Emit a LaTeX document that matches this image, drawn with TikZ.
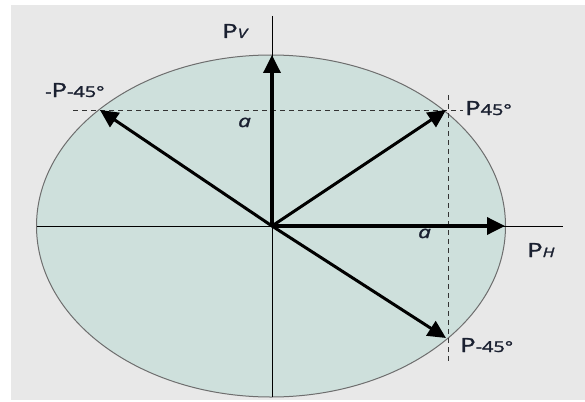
\documentclass[tikz,border=0pt]{standalone}
\usepackage{fontspec}
\setmainfont{Open Sans}
\usetikzlibrary{arrows.meta}
\definecolor{panel}{HTML}{E8E8E8}
\definecolor{disc}{HTML}{CEE0DC}
\definecolor{rim}{HTML}{6E6E6E}
\definecolor{txt}{HTML}{1A2030}
\newcommand{\hstretch}[1]{\scalebox{1.32}[1]{#1}}
\newcommand{\heavy}{\addfontfeature{FakeBold=1.5}}
\newcommand{\vecp}[1]{\hstretch{\fontsize{19.5}{24}\selectfont\heavy P\fontsize{15}{18}\selectfont\heavy #1}}
\newcommand{\vecpi}[1]{\hstretch{\fontsize{19.5}{24}\selectfont\heavy P\fontsize{13}{16}\selectfont\itshape\heavy #1}}
\begin{document}
\begin{tikzpicture}[x=1pt,y=-1pt,
  axis/.style={line width=0.9pt, black},
  vec/.style={line width=3pt, black, -{Triangle[length=18pt,width=17pt]}},
  guide/.style={line width=0.9pt, dash pattern=on 5pt off 4pt, black!80},
  lbl/.style={inner sep=0pt, anchor=base west, text=txt},
  alab/.style={inner sep=0pt, anchor=base west, text=txt, font=\fontsize{17}{20}\selectfont\itshape\heavy}]
\useasboundingbox (0,0) rectangle (585,401);
\fill[white] (0,0) rectangle (585,401);
\fill[panel] (11,5) rectangle (585,400);
% disc
\draw[rim, fill=disc, line width=1pt] (271,226) ellipse [x radius=234.5, y radius=171];
% coordinates
\coordinate (O) at (272,226);
\coordinate (vtop) at (272,16);
\coordinate (vbot) at (272,397);
\coordinate (hleft) at (36.5,226);
\coordinate (hright) at (563,226);
\coordinate (tV) at (272,55);
\coordinate (tH) at (505,226);
\coordinate (t45) at (446,110);
\coordinate (tm45) at (446,338);
\coordinate (tmm) at (100,110);
\coordinate (d1a) at (73,110);
\coordinate (d1b) at (463,110);
\coordinate (d2a) at (448,95);
\coordinate (d2b) at (448,363);
% axes
\draw[axis] (vtop) -- (vbot);
\draw[axis] (hleft) -- (hright);
% guides
\draw[guide] (d1a) -- (d1b);
\draw[guide] (d2a) -- (d2b);
% vectors
\draw[vec, line width=3.5pt] (O) -- (tV);
\draw[vec, line width=3.5pt] (O) -- (tH);
\draw[vec] (O) -- (t45);
\draw[vec] (O) -- (tm45);
\draw[vec] (O) -- (tmm);
% labels
\node[lbl] (lV) at (222,38) {\vecpi{V}};
\node[lbl] (lH) at (527,257) {\vecpi{H}};
\node[lbl] (l45) at (465,115) {\vecp{45°}};
\node[lbl] (lm45) at (460,352) {\vecp{-45°}};
\node[lbl] (lmm) at (45,97) {\hstretch{\fontsize{15}{18}\selectfont\heavy -}\vecp{-45°}};
\node[alab] (a1) at (238,127) {\hstretch{a}};
\node[alab] (a2) at (418,238) {\hstretch{a}};
\end{tikzpicture}
\end{document}
